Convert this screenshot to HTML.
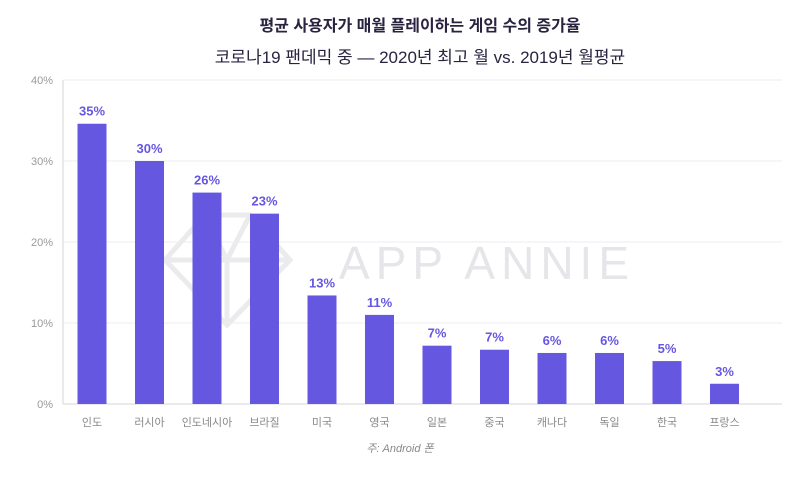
<!DOCTYPE html>
<html><head><meta charset="utf-8"><style>
body{margin:0;background:#fff;width:800px;height:485px;overflow:hidden;font-family:"Liberation Sans","Noto Sans CJK KR",sans-serif}
</style></head><body>
<svg width="800" height="485" xmlns="http://www.w3.org/2000/svg" id="chart" font-family="Liberation Sans, Noto Sans CJK KR, sans-serif">
<text x="420" y="31" text-anchor="middle" font-size="16" font-weight="bold" fill="#2a2340">평균 사용자가 매월 플레이하는 게임 수의 증가율</text>
<text x="420" y="63" text-anchor="middle" font-size="17" fill="#2a2340">코로나19 팬데믹 중 — 2020년 최고 월 vs. 2019년 월평균</text>
<g opacity="0.5" fill="none" stroke="#d8d8de" stroke-width="5">
<polygon points="165,260 205,215 250,215 290,260 227,325"/>
<polyline points="165,260 290,260"/><polyline points="205,215 227,260 250,215"/><polyline points="227,260 227,325"/>
</g>
<text x="487" y="279" text-anchor="middle" font-size="46" fill="#e6e6ea" letter-spacing="6">APP ANNIE</text>
<g id="grid"></g><g id="bars"></g>
<text x="400" y="452" text-anchor="middle" font-size="11" font-style="italic" fill="#888">주: Android 폰</text>
</svg>
<script>
const categories=["인도","러시아","인도네시아","브라질","미국","영국","일본","중국","캐나다","독일","한국","프랑스"];
const values=[34.6,30.0,26.1,23.5,13.4,11.0,7.2,6.7,6.3,6.3,5.3,2.5];
const labels=["35%","30%","26%","23%","13%","11%","7%","7%","6%","6%","5%","3%"];
const ticks=[0,10,20,30,40];
const NS="http://www.w3.org/2000/svg";
const x0=63,x1=782,yB=404,yT=80,yMax=40;
const y=v=>yB-(v/yMax)*(yB-yT);
const xc=i=>92+i*57.5;
function mk(t,a,p){const e=document.createElementNS(NS,t);for(const k in a)e.setAttribute(k,a[k]);p.appendChild(e);return e;}
const g=document.getElementById('grid'),b=document.getElementById('bars');
ticks.forEach(t=>{
 const l=mk('line',{x1:x0,x2:x1,y1:y(t),y2:y(t),stroke:t===0?'#d6d6dc':'#ececf0','stroke-width':1},g);
 
 
 const tx=mk('text',{x:53,y:y(t)+4,'text-anchor':'end','font-size':11,fill:'#999'},g);
 tx.textContent=t+'%';
 
 
});
const ax=mk('line',{x1:x0,x2:x0,y1:yT,y2:yB,stroke:'#d6d6dc'},g);


categories.forEach((c,i)=>{
 const r=mk('rect',{x:xc(i)-14.5,y:y(values[i]),width:29,height:yB-y(values[i]),fill:'#6657e0'},b);
 
 
 const v=mk('text',{x:xc(i),y:y(values[i])-8,'text-anchor':'middle','font-size':13,'font-weight':'bold',fill:'#6657e0'},b);
 v.textContent=labels[i];
 
 
 const cl=mk('text',{x:xc(i),y:426,'text-anchor':'middle','font-size':11,fill:'#888'},b);
 cl.textContent=c;
 
 
});
</script>
</body></html>
